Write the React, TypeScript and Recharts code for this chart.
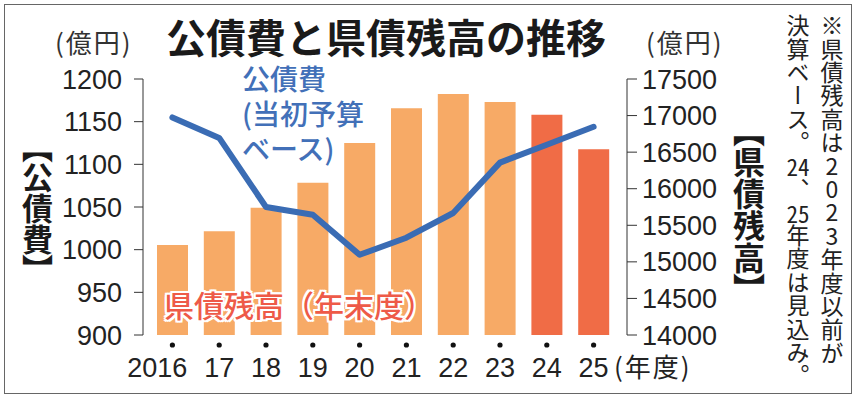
import React from 'react';
import { ComposedChart, Bar, Line, XAxis, YAxis, Cell } from 'recharts';

const years = ['2016', '17', '18', '19', '20', '21', '22', '23', '24', '25'];
const kosaihi = [1155, 1131, 1050, 1041, 994, 1014, 1043, 1102, 1123, 1144];
const zandaka = [15230, 15420, 15740, 16080, 16625, 17100, 17295, 17185, 17010, 16540];
const estimateYears = ['24', '25'];
const leftTicks = [900, 950, 1000, 1050, 1100, 1150, 1200];
const rightTicks = [14000, 14500, 15000, 15500, 16000, 16500, 17000, 17500];
const lineLabel = ['公債費', '(当初予算', 'ベース)'];

const data = years.map((year, i) => ({ year, kosaihi: kosaihi[i], zandaka: zandaka[i] }));

const NUM_FONT = "'Liberation Sans', Arial, sans-serif";
const JP_FONT = "'Noto Sans CJK JP', sans-serif";

// the first label (full year) is pushed left so that its last two digits sit under the dot
function YearTick(props: any) {
  const { x, y, payload, index } = props;
  const first = index === 0;
  return (
    <g>
      <circle cx={x} cy={y + 10} r={2.6} fill="#111" />
      <text
        x={first ? x + 15 : x}
        y={y + 33}
        textAnchor={first ? 'end' : 'middle'}
        dominantBaseline="central"
        fontSize={27}
        fontFamily={NUM_FONT}
        fill="#222"
      >
        {payload.value}
      </text>
    </g>
  );
}

const abs = (style: React.CSSProperties): React.CSSProperties => ({ position: 'absolute', whiteSpace: 'nowrap', ...style });

export default function App() {
  return (
    <div style={{ position: 'absolute', left: 0, top: 0, width: 858, height: 400, background: '#fff', fontFamily: JP_FONT, overflow: 'hidden' }}>
      <div style={{ position: 'absolute', left: 4, top: 4, width: 846, height: 388, border: '1.5px solid #666' }} />
      <ComposedChart
        width={858}
        height={400}
        data={data}
        margin={{ top: 79, right: 131, bottom: 15, left: 83 }}
        style={{ position: 'absolute', left: 0, top: 0 }}
      >
        <XAxis
          dataKey="year"
          axisLine={false}
          tickLine={false}
          tickSize={0}
          tickMargin={0}
          height={50}
          interval={0}
          padding={{ left: 6, right: 10 }}
          tick={<YearTick />}
        />
        <YAxis
          yAxisId="left"
          orientation="left"
          width={60}
          domain={[900, 1200]}
          ticks={leftTicks}
          interval={0}
          tickSize={9}
          tickMargin={12}
          stroke="#333"
          tick={{ fontSize: 27, fontFamily: NUM_FONT, fill: '#222' }}
        />
        <YAxis
          yAxisId="right"
          orientation="right"
          width={100}
          domain={[14000, 17500]}
          ticks={rightTicks}
          interval={0}
          tickSize={10}
          tickMargin={5}
          stroke="#333"
          tick={{ fontSize: 27, fontFamily: NUM_FONT, fill: '#222', textAnchor: 'start' }}
        />
        <Bar yAxisId="right" dataKey="zandaka" barSize={31} isAnimationActive={false}>
          {data.map((d) => (
            <Cell key={d.year} fill={estimateYears.includes(d.year) ? '#f06c46' : '#f7aa66'} />
          ))}
        </Bar>
        <Line
          yAxisId="left"
          dataKey="kosaihi"
          type="linear"
          stroke="#3a6cb4"
          strokeWidth={6}
          strokeLinecap="round"
          strokeLinejoin="round"
          dot={false}
          activeDot={false}
          isAnimationActive={false}
        />
      </ComposedChart>

      <div style={abs({ left: 166, top: 12, fontSize: 40, fontWeight: 700, color: '#1a1a1a', lineHeight: '48px' })}>
        公債費と県債残高の推移
      </div>
      <div style={abs({ left: 55, top: 26, fontSize: 26, color: '#333', lineHeight: '32px', letterSpacing: 2 })}>(億円)</div>
      <div style={abs({ left: 646, top: 26, fontSize: 26, color: '#333', lineHeight: '32px', letterSpacing: 2 })}>(億円)</div>

      {lineLabel.map((t, i) => (
        <div key={t} style={abs({ left: 242, top: 62 + i * 35, fontSize: 28, fontWeight: 500, color: '#4270b8', lineHeight: '32px' })}>
          {t}
        </div>
      ))}

      <div
        style={abs({
          left: 164, top: 284, fontSize: 30, fontWeight: 500, color: '#ee5a48', lineHeight: '40px',
          textShadow: '2px 0 0 #fff, -2px 0 0 #fff, 0 2px 0 #fff, 0 -2px 0 #fff, 2px 2px 0 #fff, -2px -2px 0 #fff, 2px -2px 0 #fff, -2px 2px 0 #fff',
        })}
      >
        県債残高（年末度）
      </div>

      <div style={abs({ left: 614, top: 346, fontSize: 26, color: '#222', lineHeight: '40px', letterSpacing: 2 })}>(年度)</div>

      <div style={abs({ left: 20, top: 146, fontSize: 31, fontWeight: 700, color: '#1a1a1a', writingMode: 'vertical-rl', lineHeight: '34px', fontFeatureSettings: "'vpal' 1" })}>
        【公債費】
      </div>
      <div style={abs({ left: 732, top: 130, fontSize: 32, fontWeight: 700, color: '#1a1a1a', writingMode: 'vertical-rl', lineHeight: '34px', fontFeatureSettings: "'vpal' 1" })}>
        【県債残高】
      </div>

      <div style={abs({ left: 819, top: 14, fontSize: 23, color: '#222', writingMode: 'vertical-rl', textOrientation: 'upright', lineHeight: '26px', letterSpacing: 0.4 })}>
        ※県債残高は2023年度以前が
      </div>
      <div style={abs({ left: 785, top: 14, fontSize: 23, color: '#222', writingMode: 'vertical-rl', lineHeight: '26px', letterSpacing: 0.4 })}>
        決算ベース。<span style={{ textCombineUpright: 'all' }}>24</span>、<span style={{ textCombineUpright: 'all' }}>25</span>年度は見込み。
      </div>
    </div>
  );
}
